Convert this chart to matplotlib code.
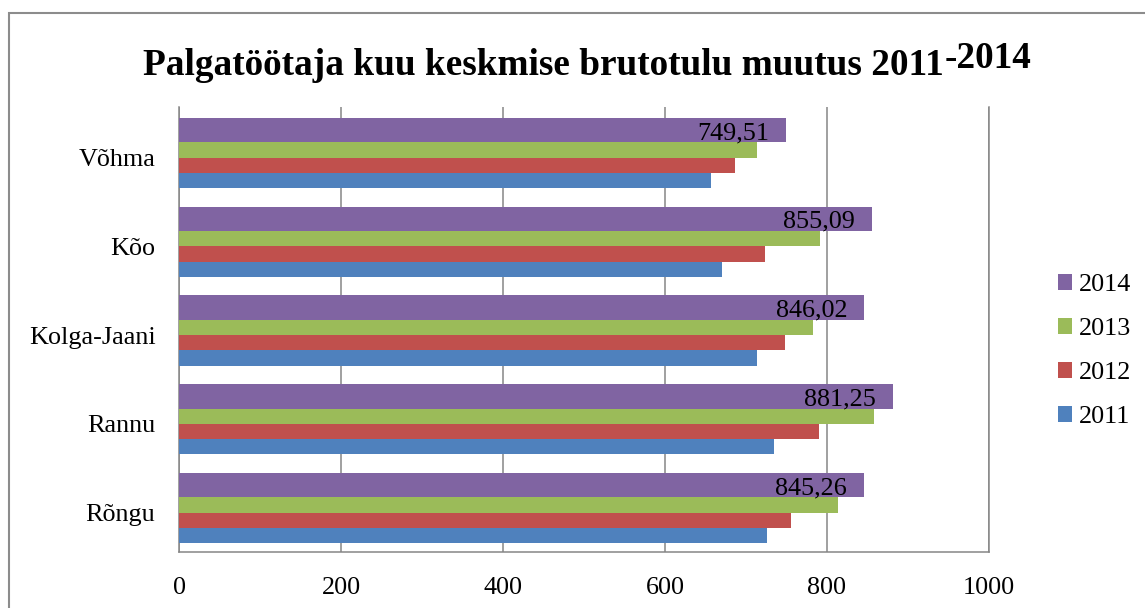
import matplotlib
matplotlib.use("Agg")
import matplotlib.pyplot as plt
from matplotlib.patches import Patch, Rectangle
import numpy as np

categories = ["Võhma", "Kõo", "Kolga-Jaani", "Rannu", "Rõngu"]
years = ["2011", "2012", "2013", "2014"]
v2011 = [657, 670, 713, 735, 726]
v2012 = [686, 723, 748, 790, 756]
v2013 = [713, 791, 783, 858, 814]
v2014 = [749.51, 855.09, 846.02, 881.25, 845.26]
xticks = [0, 200, 400, 600, 800, 1000]
title_main = "Palgatöötaja kuu keskmise brutotulu muutus 2011"
title_tail = "-2014"

colors = ["#4F81BD", "#C0504D", "#9BBB59", "#8064A2"]
FONT = "Liberation Serif"
FS = 18.8
W, H = 1145, 608

fig = plt.figure(figsize=(W / 100, H / 100), dpi=100)
ax = fig.add_axes([179 / W, 1 - 551.7 / H, (989 - 179) / W, (551.7 - 107) / H])

n = len(categories)
ypos = np.arange(n)[::-1].astype(float)  # Võhma at top
h = 15.3 / 88.8
hp = 24.4 / 88.8

series = [v2011, v2012, v2013]
for k, vals in enumerate(series):
    bottom = -2 * h + k * h
    ax.barh(ypos + bottom, vals, height=h, align="edge", color=colors[k],
            label=years[k], zorder=3)
ax.barh(ypos + h, v2014, height=hp, align="edge", color=colors[3],
        label=years[3], zorder=3)

for y, v in zip(ypos, v2014):
    ax.annotate(f"{v:.2f}".replace(".", ","), xy=(v, y + h + hp / 2),
                xytext=(-17, -3), textcoords="offset pixels",
                ha="right", va="center", fontsize=FS, family=FONT,
                color="black", zorder=5)

ax.set_xlim(0, 1000)
ax.set_ylim(-0.44, 4.57)
ax.set_xticks(xticks)
ax.set_xticklabels([str(t) for t in xticks], fontsize=FS, family=FONT)
ax.set_yticks(ypos)
ax.set_yticklabels(categories, fontsize=FS, family=FONT)
ax.tick_params(axis="x", length=0, pad=18.5)
ax.tick_params(axis="y", length=0, pad=17)
for lab in ax.get_yticklabels():
    lab.set_va("center_baseline")
ax.grid(axis="x", color="#868686", linewidth=1.1, zorder=0)
ax.set_axisbelow(True)
ax.spines["top"].set_visible(False)
for s in ["left", "bottom", "right"]:
    ax.spines[s].set_color("#868686")
    ax.spines[s].set_linewidth(1.1)

# legend (reversed order)
handles = [Patch(facecolor=colors[k], edgecolor="none") for k in range(4)][::-1]
labels = years[::-1]
fig.legend(handles, labels, loc="upper left",
           bbox_to_anchor=(1058 / W, 1 - 274 / H), frameon=False,
           prop={"family": FONT, "size": FS}, handlelength=0.55,
           handleheight=0.55, handletextpad=0.25, labelspacing=0.84,
           borderpad=0, borderaxespad=0)

# title
t1 = fig.text(143 / W, 1 - 75 / H, title_main, fontsize=26.8, weight="bold",
              family=FONT, va="baseline", ha="left")
ax.annotate(title_tail, xy=(1, 0), xycoords=t1, xytext=(1, 7),
            textcoords="offset pixels", fontsize=26.8, weight="bold",
            family=FONT, va="bottom", ha="left", annotation_clip=False)

# outer frame
fig.patches.append(Rectangle((8.5 / W, -0.1), 2, (1 - 12.5 / H) + 0.1,
                             transform=fig.transFigure, fill=False,
                             edgecolor="#8c8c8c", linewidth=1.5))

fig.savefig("out.png", dpi=100)
